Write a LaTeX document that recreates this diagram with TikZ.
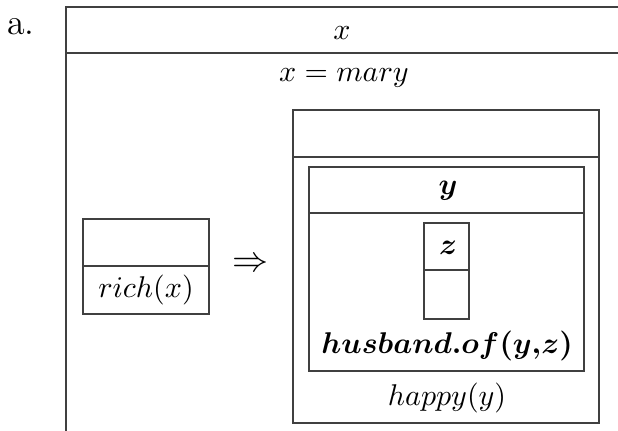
\documentclass[tikz,border=0pt]{standalone}
\usepackage{amsmath}

\begin{document}
\begin{tikzpicture}[x=0.3333pt, y=-0.3333pt, line width=0.4pt,
    drsline/.style={draw=black!75},
    drstext/.style={inner sep=0pt, anchor=center}]
        \useasboundingbox (0,0) rectangle (618,431);

        % vnější box
        \draw[drsline] (618,7) -- (66,7) -- (66,431);
        \draw[drsline] (66,53) -- (618,53);
        \node[drstext, font=\fontsize{12}{14}\selectfont] (lab) at (21,27) {a.};
        \node[drstext] (ux) at (342,33) {$x$};
        \node[drstext] (cx) at (344,78) {$x = mary$};

        % antecedent
        \draw[drsline] (83,219) rectangle (209,314);
        \draw[drsline] (83,266) -- (209,266);
        \node[drstext] (rich) at (146,290) {$rich(x)$};
        \node[drstext, font=\large] (impl) at (250,265) {$\Rightarrow$};

        % konsekvent
        \draw[drsline] (293,110) rectangle (599,423);
        \draw[drsline] (293,157) -- (599,157);
        \draw[drsline] (309,167) rectangle (584,371);
        \draw[drsline] (309,213) -- (584,213);
        \node[drstext] (uy) at (448,191) {$\boldsymbol{y}$};

        % vnořený box
        \draw[drsline] (424,223) rectangle (469,319);
        \draw[drsline] (424,270) -- (469,270);
        \node[drstext] (uz) at (448,248) {$\boldsymbol{z}$};
        \node[drstext] (husb) at (447,346) {$\boldsymbol{husband.of(y{,}z)}$};
        \node[drstext] (happy) at (447,398) {$happy(y)$};
    \end{tikzpicture}
\end{document}
